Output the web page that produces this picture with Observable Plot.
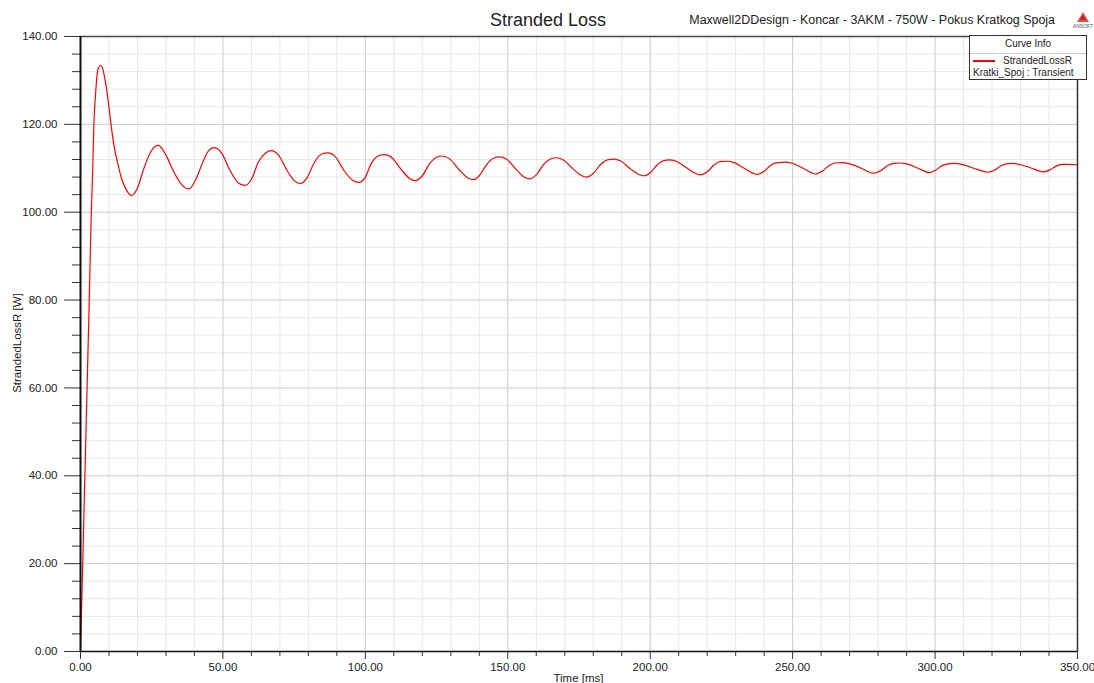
<!DOCTYPE html>
<html>
<head>
<meta charset="utf-8">
<script src="https://cdn.jsdelivr.net/npm/d3@7"></script>
<script src="https://cdn.jsdelivr.net/npm/@observablehq/plot@0.6"></script>
<style>
  html, body { margin: 0; padding: 0; background: #fff; }
  #wrap { position: relative; width: 1094px; height: 683px; font-family: "Liberation Sans", Arial, sans-serif; color: #222; }
  .abs { position: absolute; white-space: nowrap; }
</style>
</head>
<body>
<div id="wrap">
  <div id="chart"></div>
  <div class="abs" style="left:448px;width:200px;top:9px;line-height:22px;font-size:18px;text-align:center;">Stranded Loss</div>
  <div class="abs" style="right:39px;top:12px;line-height:16px;font-size:12.45px;">Maxwell2DDesign - Koncar - 3AKM - 750W - Pokus Kratkog Spoja</div>
  <svg class="abs" style="left:1072px;top:10px" width="22" height="22" viewBox="0 0 22 22">
    <polygon points="11,2 17,12 5,12" fill="#d9534f"/>
    <polygon points="11,5 14,10 8,10" fill="#b22"/>
    <text x="11" y="18" font-size="5" text-anchor="middle" fill="#555" font-family="Liberation Sans, Arial">ANSOFT</text>
  </svg>
  <div class="abs" style="left:551px;width:55px;top:671px;line-height:14px;font-size:11.5px;text-align:center;">Time [ms]</div>
  <div class="abs" style="left:17px;top:343px;line-height:14px;font-size:11.5px;transform:translate(-50%,-50%) rotate(-90deg);">StrandedLossR [W]</div>
  <div class="abs" style="left:969px;top:35px;width:118px;height:45px;box-sizing:border-box;border:1px solid #333;background:#fff;font-size:10px;">
    <div class="abs" style="left:0;right:0;top:0;height:17px;line-height:16px;text-align:center;border-bottom:1px solid #ccc;">Curve Info</div>
    <div class="abs" style="left:3px;top:24px;width:22px;height:2px;background:#ff0000;"></div>
    <div class="abs" style="left:33px;top:19px;line-height:12px;">StrandedLossR</div>
    <div class="abs" style="left:3px;top:31px;line-height:12px;">Kratki_Spoj : Transient</div>
  </div>
</div>
<script>
// Time [ms]
const time = [0, 1, 2, 3, 3.75, 4.3, 4.7, 5.3, 5.85, 6.4, 7, 7.6, 8.8, 9.7, 10.6, 11.8, 13.3, 14.5, 16,
  17.9, 20, 22, 24.9, 27.3, 30, 32.5, 35.5,
  38.1, 40.5, 43, 45, 47, 49.5, 52.5, 55.5,
  57.9, 60, 62.5, 65, 67, 69.5, 72.5, 75,
  77.2, 79.5, 82, 84.5, 86.9, 89.5, 92.5, 95.5,
  97.7, 100, 102, 104.5, 106.8, 109.5, 112.5, 115.5,
  117.6, 120, 122.5, 125, 127, 129.5, 133, 136,
  138, 140, 142.5, 145, 147.1, 149.5, 153, 156,
  157.7, 160, 162.5, 165, 167.1, 169.5, 173, 176,
  177.6, 180, 182.5, 185, 187.2, 189.5, 193, 196,
  197.8, 200, 202.5, 204.5, 206.8, 209.5, 213, 216,
  217.6, 220, 222.5, 224.5, 226.7, 229.5, 233, 236,
  237.5, 240, 242.5, 245, 247.5, 250, 254, 256.5,
  258, 260.5, 263, 265, 267.5, 270, 274.5, 277,
  278.5, 281, 283.5, 285.5, 287.5, 290, 294, 296.5,
  297.8, 300, 302.5, 304.5, 306.5, 309.5, 314, 317,
  318.5, 321, 323, 325, 327, 330, 334, 336.5,
  338.1, 340.5, 342.5, 344.5, 347, 350];
// StrandedLossR [W]
const loss = [0, 26, 52, 78, 99, 110, 120, 127, 131.5, 133, 133.4, 133, 129.5, 125.5, 120.5, 115, 110.5, 107.5, 105.2,
  103.8, 105.5, 109.5, 114, 115.2, 113, 109.5, 106.3,
  105.3, 107.5, 111.5, 114, 114.7, 113.5, 109.5, 106.6,
  106.1, 107.5, 111.5, 113.5, 114.0, 113, 109.5, 107.2,
  106.5, 107.8, 111.2, 113.2, 113.5, 112.6, 109.5, 107.3,
  106.8, 108, 111, 112.8, 113.1, 112.3, 109.8, 107.7,
  107.2, 108.3, 111, 112.5, 112.8, 112.2, 109.6, 107.8,
  107.4, 108.3, 110.8, 112.3, 112.6, 112.1, 109.7, 107.9,
  107.6, 108.5, 110.8, 112.1, 112.4, 111.9, 109.8, 108.3,
  108.0, 108.8, 110.8, 111.9, 112.1, 111.7, 109.9, 108.6,
  108.3, 109, 110.8, 111.7, 111.9, 111.5, 110, 108.8,
  108.5, 109.2, 110.8, 111.5, 111.6, 111.3, 110, 108.9,
  108.6, 109.3, 110.8, 111.3, 111.4, 111.1, 109.9, 109,
  108.7, 109.4, 110.7, 111.2, 111.3, 111.0, 109.9, 109.1,
  108.9, 109.5, 110.7, 111.1, 111.2, 111.0, 110, 109.3,
  109.0, 109.5, 110.6, 111.0, 111.1, 110.9, 109.9, 109.3,
  109.1, 109.6, 110.5, 111.0, 111.1, 110.8, 110, 109.4,
  109.2, 109.7, 110.5, 110.9, 110.9, 110.8];

const xMajorTicks = [0, 50, 100, 150, 200, 250, 300, 350];
const xMinorTicks = [10, 20, 30, 40, 60, 70, 80, 90, 110, 120, 130, 140, 160, 170, 180, 190, 210, 220, 230, 240, 260, 270, 280, 290, 310, 320, 330, 340];
const yMajorTicks = [0, 20, 40, 60, 80, 100, 120, 140];
const yMinorTicks = [4, 8, 12, 16, 24, 28, 32, 36, 44, 48, 52, 56, 64, 68, 72, 76, 84, 88, 92, 96, 104, 108, 112, 116, 124, 128, 132, 136];

const data = time.map((t, i) => ({t, v: loss[i]}));
const fmt = d => d.toFixed(2);
const blank = () => "";

const chart = Plot.plot({
  width: 1094,
  height: 683,
  marginLeft: 80,
  marginRight: 17,
  marginTop: 36,
  marginBottom: 32,
  style: {fontFamily: "'Liberation Sans', Arial, sans-serif", fontSize: "11.5px", color: "#222", background: "white", overflow: "visible"},
  x: {domain: [0, 350]},
  y: {domain: [0, 140]},
  marks: [
    Plot.gridX(xMinorTicks, {stroke: "#e8e8e8", strokeOpacity: 1}),
    Plot.gridY(yMinorTicks, {stroke: "#e8e8e8", strokeOpacity: 1}),
    Plot.gridX(xMajorTicks, {stroke: "#cacaca", strokeOpacity: 1}),
    Plot.gridY(yMajorTicks, {stroke: "#cacaca", strokeOpacity: 1}),
    Plot.lineY(data, {x: "t", y: "v", stroke: "#ff0000", strokeWidth: 1.2, curve: "monotone-x"}),
    Plot.axisY(yMajorTicks, {tickSize: 16, tickPadding: 7, tickFormat: fmt, label: null, stroke: "#333"}),
    Plot.axisY(yMinorTicks, {tickSize: 8, tickFormat: blank, label: null, stroke: "#333"}),
    Plot.axisX(xMajorTicks, {tickSize: 8, tickPadding: 3, tickFormat: fmt, label: null, stroke: "#333"}),
    Plot.axisX(xMinorTicks, {tickSize: 5, tickFormat: blank, label: null, stroke: "#333"}),
    Plot.ruleX([350], {stroke: "#333", strokeWidth: 1.5}),
    Plot.ruleY([140], {stroke: "#444", strokeWidth: 1.5}),
    Plot.ruleY([0], {stroke: "#111", strokeWidth: 1.5}),
    Plot.ruleX([0], {stroke: "#111", strokeWidth: 2})
  ]
});
document.getElementById("chart").appendChild(chart);
</script>
</body>
</html>
